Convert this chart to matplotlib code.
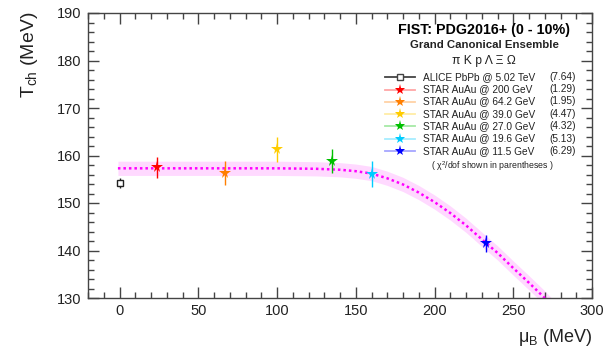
import matplotlib.pyplot as plt
import numpy as np

plt.rcParams["font.family"] = ["Liberation Sans", "DejaVu Sans"]
plt.rcParams["mathtext.fontset"] = "custom"
plt.rcParams["mathtext.rm"] = "Liberation Sans"
plt.rcParams["mathtext.it"] = "Liberation Sans:italic"

# data
labels = ["ALICE PbPb @ 5.02 TeV", "STAR AuAu @ 200 GeV", "STAR AuAu @ 64.2 GeV",
          "STAR AuAu @ 39.0 GeV", "STAR AuAu @ 27.0 GeV", "STAR AuAu @ 19.6 GeV",
          "STAR AuAu @ 11.5 GeV"]
chi2 = ["(7.64)", "(1.29)", "(1.95)", "(4.47)", "(4.32)", "(5.13)", "(6.29)"]
mu_b = [0.0, 24.0, 67.0, 100.0, 135.0, 160.0, 233.0]
t_ch = [154.2, 157.5, 156.3, 161.3, 158.8, 156.1, 141.5]
t_err = [1.0, 2.2, 2.5, 2.7, 2.5, 2.7, 1.8]
colors = ["black", "#ff0000", "#ff7f00", "#ffcc00", "#00c000", "#00ccff", "#0000ff"]

curve_mu = [-1, 50, 100, 125, 140, 150, 160, 170, 180, 190, 200, 210, 220, 233, 240, 250, 260, 270, 280]
curve_t = [157.3, 157.3, 157.3, 157.2, 157.0, 156.7, 156.2, 155.2, 153.9, 152.2, 150.2,
           147.9, 145.3, 141.5, 139.5, 136.3, 133.2, 130.0, 126.5]
band_halfwidth = 1.5

fig = plt.figure(figsize=(6.03, 3.49), dpi=100)
ax = fig.add_axes([88 / 603, 51 / 349, 504 / 603, 285 / 349])

cm = np.array(curve_mu, dtype=float)
ct = np.array(curve_t, dtype=float)
ax.fill_between(cm, ct - band_halfwidth, ct + band_halfwidth, color="#ffd0ff", alpha=0.8, lw=0, zorder=1)
ax.plot(cm, ct, color="#ff00ff", ls=(0, (1, 1.2)), lw=1.8, zorder=2)

for i in range(len(labels)):
    if i == 0:
        ax.errorbar(mu_b[i], t_ch[i], yerr=t_err[i], fmt="s", mfc="white", mec="#222222",
                    ms=5, mew=1, ecolor="#222222", elinewidth=1, zorder=4)
    else:
        ax.errorbar(mu_b[i], t_ch[i], yerr=t_err[i], fmt="*", color=colors[i], ms=8.5,
                    mew=0, elinewidth=1, zorder=4)

ax.set_xlim(-20, 300)
ax.set_ylim(130, 190)
ax.set_xticks(np.arange(0, 301, 50))
ax.set_xticks(np.arange(-20, 301, 10), minor=True)
ax.set_yticks(np.arange(130, 191, 10))
ax.set_yticks(np.arange(130, 191, 2), minor=True)
ax.tick_params(which="both", direction="in", top=True, right=True, color="#444444",
               labelsize=10.5, labelcolor="#222222", width=1)
ax.tick_params(which="major", length=8)
ax.tick_params(which="minor", length=4)
for s in ax.spines.values():
    s.set_color("#444444")
    s.set_linewidth(1)
ax.tick_params(axis="x", pad=4)
ax.tick_params(axis="y", pad=5)

fig.text(30 / 603, 1 - 12 / 349, r"T$_{\rm ch}$ (MeV)", rotation=90, ha="center", va="top",
         fontsize=14, color="#222222")
fig.text(592 / 603, 1 - 338 / 349, r"$\mathregular{\mu_B}$ (MeV)", ha="right", va="center",
         fontsize=13, color="#222222")

# legend drawn in figure pixel coords
def fx(px):
    return px / 603

def fy(py):
    return 1 - py / 349

fig.text(fx(484), fy(30), "FIST: PDG2016+ (0 - 10%)", ha="center", va="center",
         fontsize=10.3, fontweight="bold")
fig.text(fx(484), fy(45), "Grand Canonical Ensemble", ha="center", va="center",
         fontsize=8.2, fontweight="bold", color="#222222")
fig.text(fx(484), fy(61), "π K p Λ Ξ Ω", ha="center", va="center", fontsize=8.7, color="#222222")

row_y = [77, 89.5, 101.5, 114, 126, 138.5, 151]
for i in range(len(labels)):
    y = fy(row_y[i])
    if i == 0:
        fig.add_artist(plt.Line2D([fx(385), fx(415)], [y, y], color="#444444", lw=1.3))
        fig.add_artist(plt.Line2D([fx(400)], [y], marker="s", mfc="white", mec="#444444", ms=5, ls=""))
    else:
        fig.add_artist(plt.Line2D([fx(385), fx(415)], [y, y], color=colors[i], lw=1.3, alpha=0.35))
        fig.add_artist(plt.Line2D([fx(400)], [y], marker="*", color=colors[i], ms=8, mew=0, ls=""))
    fig.text(fx(423), y, labels[i], ha="left", va="center", fontsize=7.3, color="#222222")
    fig.text(fx(576), y, chi2[i], ha="right", va="center", fontsize=7.3, color="#222222")

fig.text(fx(492), fy(166), r"( $\mathregular{\chi^2}$/dof shown in parentheses )", ha="center",
         va="center", fontsize=6.3, color="#222222")

fig.savefig("out.png", dpi=100)
